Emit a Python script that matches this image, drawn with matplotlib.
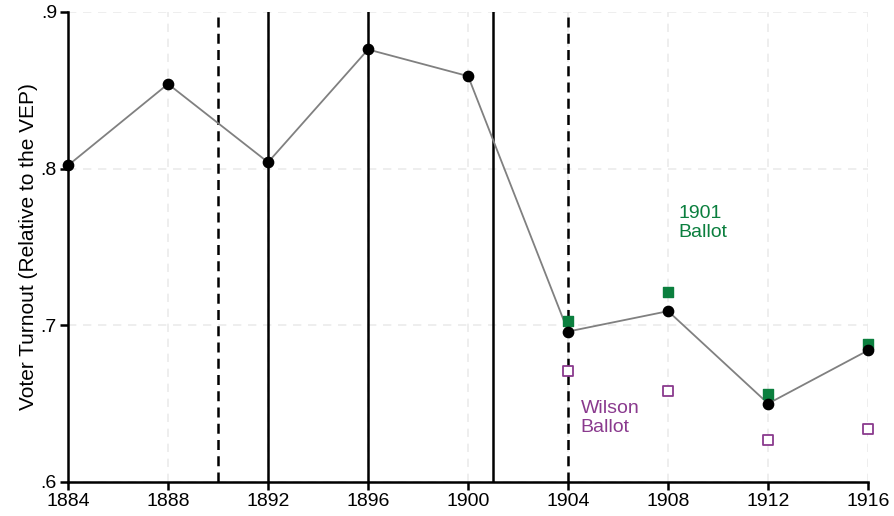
import matplotlib.pyplot as plt

plt.rcParams['font.family'] = ['Liberation Sans', 'DejaVu Sans']

# Turnout data
years = [1884, 1888, 1892, 1896, 1900, 1904, 1908, 1912, 1916]
turnout = [0.802, 0.854, 0.804, 0.876, 0.859, 0.696, 0.709, 0.650, 0.684]

# Counterfactual ballots
cf_years = [1904, 1908, 1912, 1916]
ballot_1901 = [0.703, 0.721, 0.656, 0.688]
wilson_ballot = [0.671, 0.658, 0.627, 0.634]

solid_lines = [1892, 1896, 1901]
dashed_lines = [1890, 1904]

xticks = [1884, 1888, 1892, 1896, 1900, 1904, 1908, 1912, 1916]
yticks = [0.6, 0.7, 0.8, 0.9]
ytick_labels = ['.6', '.7', '.8', '.9']

green = '#0b7f3e'
purple = '#8a3a8e'

fig = plt.figure(figsize=(8.95, 5.16), dpi=100)
ax = fig.add_axes([0.076, 0.066, 0.894, 0.911])

# grid
for x in xticks:
    ax.axvline(x, color='#ebebeb', lw=1.2, ls=(0, (5, 4)), zorder=0)
for y in yticks:
    ax.axhline(y, color='#ebebeb', lw=1.2, ls=(0, (5, 4)), zorder=0)

# event lines
for x in solid_lines:
    ax.axvline(x, color='black', lw=1.8, zorder=1)
for x in dashed_lines:
    ax.axvline(x, color='black', lw=1.8, ls=(0, (4, 2.5)), zorder=1)

ax.plot(years, turnout, color='#808080', lw=1.3, zorder=2)
ax.scatter(years, turnout, color='black', s=55, zorder=4, clip_on=False)
ax.scatter(cf_years, ballot_1901, color=green, marker='s', s=55, zorder=3,
           clip_on=False)
ax.scatter(cf_years, wilson_ballot, facecolor='white', edgecolor=purple,
           marker='s', s=45, lw=1.3, zorder=3, clip_on=False)

ax.text(1908.4, 0.777, '1901\nBallot', color=green, fontsize=14,
        va='top', ha='left', linespacing=1.15)
ax.text(1904.5, 0.652, 'Wilson\nBallot', color=purple, fontsize=14,
        va='top', ha='left', linespacing=1.15)

ax.set_xlim(1884, 1916)
ax.set_ylim(0.6, 0.9)
ax.set_xticks(xticks)
ax.set_yticks(yticks)
ax.set_yticklabels(ytick_labels)
ax.tick_params(axis='both', labelsize=14, width=1.8, length=6, color='black',
               pad=2)
ax.set_ylabel('Voter Turnout (Relative to the VEP)', fontsize=15, labelpad=2)

for side in ['top', 'right']:
    ax.spines[side].set_visible(False)
for side in ['left', 'bottom']:
    ax.spines[side].set_linewidth(1.8)
ax.spines['left'].set_zorder(5)

fig.savefig('out.png', dpi=100)
